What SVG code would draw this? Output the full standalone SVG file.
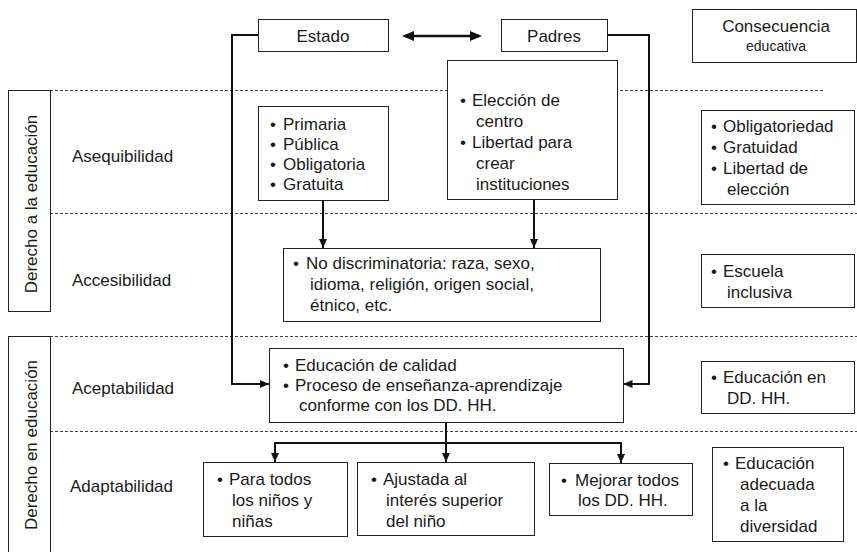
<svg xmlns="http://www.w3.org/2000/svg" width="857" height="552" viewBox="0 0 857 552">
<defs>
<style>
text{font-family:"Liberation Sans",Arial,Helvetica,sans-serif;font-size:17px;fill:#1a1a1a}
.box{fill:#fff;stroke:#222;stroke-width:1}
.dash{stroke:#444;stroke-width:1;stroke-dasharray:3 2;fill:none}
.conn{stroke:#111;stroke-width:2;fill:none}
.mid{text-anchor:middle}
.small{font-size:14px}
</style>
<marker id="ah" viewBox="0 0 10 10" refX="10" refY="5" markerWidth="9" markerHeight="8" preserveAspectRatio="none" orient="auto-start-reverse" markerUnits="userSpaceOnUse"><path d="M0,0 L10,5 L0,10 z" fill="#111"/></marker>
<marker id="big" viewBox="0 0 12 10" refX="9" refY="5" markerWidth="12" markerHeight="10" preserveAspectRatio="none" orient="auto-start-reverse" markerUnits="userSpaceOnUse"><path d="M0,0 L12,5 L0,10 z" fill="#111"/></marker>
</defs>
<rect width="857" height="552" fill="#fff"/>

<g id="separators">
<line class="dash" x1="50" y1="90.5" x2="823" y2="90.5"/>
<line class="dash" x1="50" y1="213.5" x2="857" y2="213.5"/>
<line class="dash" x1="50" y1="336.5" x2="857" y2="336.5"/>
<line class="dash" x1="50" y1="431.5" x2="857" y2="431.5"/>
</g>

<g id="derecho-a">
<rect class="box" x="8.5" y="90.5" width="42" height="221"/>
<text class="mid" transform="translate(36.5,204) rotate(-90)">Derecho a la educación</text>
</g>
<g id="derecho-en">
<rect class="box" x="8.5" y="336.5" width="42" height="240"/>
<text class="mid" transform="translate(36.5,445) rotate(-90)">Derecho en educación</text>
</g>

<g id="row-labels">
<text x="72" y="162">Asequibilidad</text>
<text x="72" y="286">Accesibilidad</text>
<text x="72" y="394">Aceptabilidad</text>
<text x="70" y="492">Adaptabilidad</text>
</g>

<g id="estado">
<rect class="box" x="258.5" y="19.5" width="130" height="32"/>
<text class="mid" x="323" y="42">Estado</text>
</g>
<g id="padres">
<rect class="box" x="501.5" y="19.5" width="106" height="32"/>
<text class="mid" x="554" y="42">Padres</text>
</g>
<g id="consecuencia">
<rect class="box" x="692.5" y="9.5" width="164" height="53"/>
<text class="mid" x="776" y="32">Consecuencia</text>
<text class="mid small" x="776" y="51">educativa</text>
</g>

<g id="asequibilidad-estado">
<rect class="box" x="258.5" y="106.5" width="130" height="94"/>
<text><tspan x="270" y="130">•</tspan><tspan x="283">Primaria</tspan><tspan x="270" y="150">•</tspan><tspan x="283">Pública</tspan><tspan x="270" y="170">•</tspan><tspan x="283">Obligatoria</tspan><tspan x="270" y="190">•</tspan><tspan x="283">Gratuita</tspan></text>
</g>
<g id="asequibilidad-padres">
<rect class="box" x="447.5" y="60.5" width="170" height="139"/>
<text><tspan x="460" y="106">•</tspan><tspan x="472">Elección de</tspan><tspan x="476" y="127">centro</tspan><tspan x="460" y="148">•</tspan><tspan x="472">Libertad para</tspan><tspan x="476" y="169">crear</tspan><tspan x="476" y="190">instituciones</tspan></text>
</g>
<g id="consecuencia-asequibilidad">
<rect class="box" x="701.5" y="110.5" width="153" height="94"/>
<text><tspan x="711" y="132">•</tspan><tspan x="723">Obligatoriedad</tspan><tspan x="711" y="153">•</tspan><tspan x="723">Gratuidad</tspan><tspan x="711" y="174">•</tspan><tspan x="723">Libertad de</tspan><tspan x="727" y="195">elección</tspan></text>
</g>

<g id="accesibilidad">
<rect class="box" x="283.5" y="248.5" width="317" height="73"/>
<text><tspan x="293" y="269">•</tspan><tspan x="306">No discriminatoria: raza, sexo,</tspan><tspan x="310" y="290">idioma, religión, origen social,</tspan><tspan x="310" y="311">étnico, etc.</tspan></text>
</g>
<g id="consecuencia-accesibilidad">
<rect class="box" x="701.5" y="254.5" width="153" height="53"/>
<text><tspan x="711" y="277">•</tspan><tspan x="723">Escuela</tspan><tspan x="727" y="298">inclusiva</tspan></text>
</g>

<g id="aceptabilidad">
<rect class="box" x="269.5" y="348.5" width="354" height="74"/>
<text><tspan x="283" y="371">•</tspan><tspan x="295">Educación de calidad</tspan><tspan x="283" y="391">•</tspan><tspan x="295">Proceso de enseñanza-aprendizaje</tspan><tspan x="299" y="411">conforme con los DD. HH.</tspan></text>
</g>
<g id="consecuencia-aceptabilidad">
<rect class="box" x="701.5" y="361.5" width="153" height="52"/>
<text><tspan x="711" y="383">•</tspan><tspan x="723">Educación en</tspan><tspan x="727" y="404">DD. HH.</tspan></text>
</g>

<g id="adapt-todos">
<rect class="box" x="203.5" y="462.5" width="144" height="74"/>
<text><tspan x="217" y="485">•</tspan><tspan x="229">Para todos</tspan><tspan x="232" y="506">los niños y</tspan><tspan x="232" y="527">niñas</tspan></text>
</g>
<g id="adapt-interes">
<rect class="box" x="357.5" y="462.5" width="177" height="73"/>
<text><tspan x="371" y="485">•</tspan><tspan x="383">Ajustada al</tspan><tspan x="386" y="506">interés superior</tspan><tspan x="386" y="527">del niño</tspan></text>
</g>
<g id="adapt-mejorar">
<rect class="box" x="549.5" y="463.5" width="143" height="52"/>
<text><tspan x="561" y="486">•</tspan><tspan x="575">Mejorar todos</tspan><tspan x="578" y="506">los DD. HH.</tspan></text>
</g>
<g id="consecuencia-adaptabilidad">
<rect class="box" x="712.5" y="447.5" width="131" height="94"/>
<text><tspan x="723" y="469">•</tspan><tspan x="735">Educación</tspan><tspan x="740" y="490">adecuada</tspan><tspan x="740" y="511">a la</tspan><tspan x="740" y="532">diversidad</tspan></text>
</g>

<g id="connectors">
<line x1="405" y1="36" x2="479" y2="36" stroke="#111" stroke-width="2.6" marker-start="url(#big)" marker-end="url(#big)"/>
<path class="conn" d="M258,35 H232 V384 H269" marker-end="url(#ah)"/>
<path class="conn" d="M607,35 H649 V384 H623.5" marker-end="url(#ah)"/>
<path class="conn" d="M323,200.5 V248" marker-end="url(#ah)"/>
<path class="conn" d="M534,199.5 V248" marker-end="url(#ah)"/>
<path class="conn" d="M446,422.5 V462" marker-end="url(#ah)"/>
<path class="conn" d="M275,462 V443 H621 V463" marker-start="url(#ah)" marker-end="url(#ah)"/>
</g>
</svg>
